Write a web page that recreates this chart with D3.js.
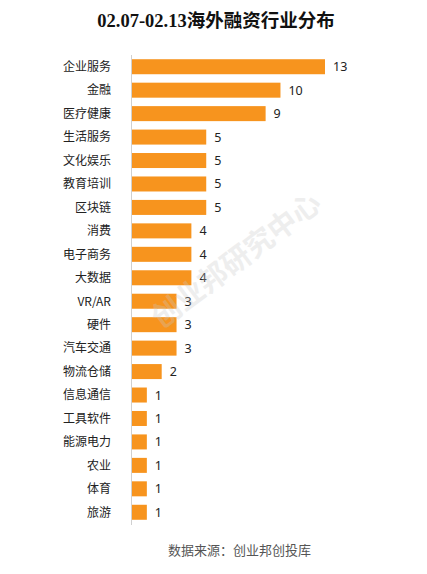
<!DOCTYPE html>
<html><head><meta charset="utf-8">
<script src="https://cdn.jsdelivr.net/npm/d3@7/dist/d3.min.js"></script>
<style>body{margin:0;background:#fff}svg{display:block}</style>
</head><body>
<script>
const categories = ["企业服务","金融","医疗健康","生活服务","文化娱乐","教育培训","区块链","消费","电子商务","大数据","VR/AR","硬件","汽车交通","物流仓储","信息通信","工具软件","能源电力","农业","体育","旅游"];
const values = [13,10,9,5,5,5,5,4,4,4,3,3,3,2,1,1,1,1,1,1];
const title = "02.07-02.13海外融资行业分布";
const source = "数据来源：创业邦创投库";
const watermark = "创业邦研究中心";

const W = 427, H = 574;
const svg = d3.select("body").append("svg").attr("width", W).attr("height", H);

const x = d3.scaleLinear().domain([0, 13]).range([132, 325]);
const y = d3.scaleBand().domain(categories).range([55, 524]).paddingInner(0.36).paddingOuter(0.18);

svg.append("text").attr("x", 216).attr("y", 27).attr("text-anchor", "middle")
  .attr("font-family", "'Liberation Serif','Noto Sans CJK SC',serif").attr("font-weight", "bold")
  .attr("font-size", 18.5).attr("fill", "#111").text(title);

svg.append("g").selectAll("rect").data(values).join("rect")
  .attr("x", x(0)).attr("y", (d, i) => y(categories[i]))
  .attr("width", d => x(d) - x(0)).attr("height", y.bandwidth())
  .attr("fill", "#f7941e");

svg.append("line").attr("x1", 131.5).attr("x2", 131.5).attr("y1", 55).attr("y2", 525)
  .attr("stroke", "#d0d0d0").attr("stroke-width", 1);

svg.append("g").selectAll("text").data(categories).join("text")
  .attr("x", 111).attr("y", d => y(d) + y.bandwidth() / 2).attr("dy", "0.36em")
  .attr("text-anchor", "end").attr("font-family", "'Noto Sans CJK SC',sans-serif")
  .attr("font-size", 12).attr("fill", "#222").text(d => d);

svg.append("g").selectAll("text").data(values).join("text")
  .attr("x", d => x(d) + 8).attr("y", (d, i) => y(categories[i]) + y.bandwidth() / 2).attr("dy", "0.36em")
  .attr("font-family", "'Noto Sans','Noto Sans CJK SC',sans-serif")
  .attr("font-size", 12.5).attr("fill", "#222").text(d => d);

svg.append("text").attr("transform", "translate(236,260) rotate(-37)")
  .attr("text-anchor", "middle").attr("dy", "0.36em")
  .attr("font-family", "'Noto Sans CJK SC',sans-serif").attr("font-weight", "bold")
  .attr("font-size", 29).attr("fill", "#c8c8c8").attr("opacity", 0.3).text(watermark);

svg.append("text").attr("x", 168).attr("y", 555)
  .attr("font-family", "'Noto Sans CJK SC',sans-serif")
  .attr("font-size", 13).attr("fill", "#555").text(source);
</script>
</body></html>
